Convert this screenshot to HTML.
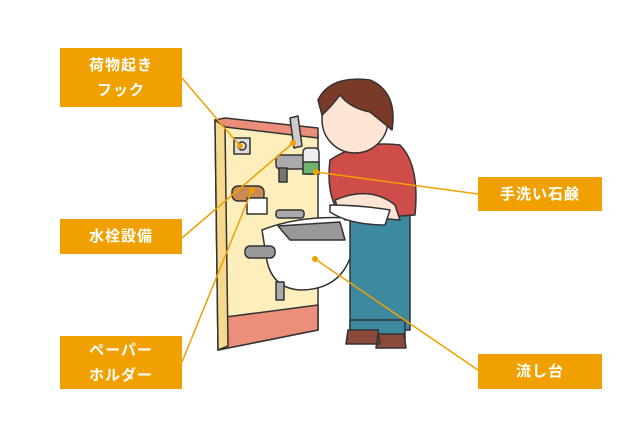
<!DOCTYPE html>
<html><head><meta charset="utf-8"><style>
body{margin:0;background:#fff;width:640px;height:426px;overflow:hidden;position:relative;font-family:"Liberation Sans","Noto Sans CJK JP",sans-serif}
.b{position:absolute;background:#f0a000;color:#fff;font-weight:bold;font-size:15px;display:flex;align-items:center;justify-content:center;text-align:center;line-height:25px;letter-spacing:1px}
svg{position:absolute;left:0;top:0}
</style></head><body>
<svg width="640" height="426" viewBox="0 0 640 426">
<g stroke="#333" stroke-width="1.5" stroke-linejoin="round">
<!-- wall panel -->
<polygon points="215,120 318,134 318,330 218,350" fill="#fdeebb"/>
<polygon points="215,120 225,118 318,128 318,138 225,127" fill="#ec8f7a"/>
<polygon points="218,318 318,305 318,330 218,350" fill="#ec8f7a"/>
<polygon points="215,120 225,127 228,346 218,350" fill="#f6d98c"/>
<rect x="234" y="138" width="16" height="16" fill="#ddd"/><circle cx="242" cy="146" r="4" fill="#eee"/>
<!-- paper holder -->
<rect x="232" y="186" width="32" height="15" rx="6" fill="#c98a55"/>
<rect x="247" y="198" width="20" height="16" fill="#fff"/>
<!-- faucet -->
<rect x="276" y="155" width="30" height="14" rx="4" fill="#aaa"/>
<path d="M290,118 l8,-2 l4,30 l-8,2z" fill="#ccc"/>
<rect x="279" y="168" width="8" height="14" fill="#777"/>
<rect x="276" y="210" width="28" height="8" rx="3" fill="#aaa"/>
<rect x="303" y="148" width="16" height="26" rx="4" fill="#eee"/>
<rect x="303" y="162" width="16" height="12" fill="#6db36d"/>
<!-- sink -->
<path d="M262,230 Q300,215 350,218 L355,235 Q350,290 300,290 Q270,288 266,255z" fill="#fff"/>
<polygon points="278,226 340,222 345,240 290,240" fill="#999"/>
<rect x="245" y="246" width="30" height="12" rx="5" fill="#999"/>
<rect x="276" y="282" width="8" height="18" fill="#aaa"/>
<!-- boy -->
<rect x="350" y="210" width="60" height="120" fill="#3d8aa0"/>
<rect x="350" y="320" width="55" height="20" fill="#3d8aa0"/>
<path d="M348,330 l30,0 l2,14 l-34,0z M378,334 l26,0 l2,14 l-30,0z" fill="#8b4a3a"/>
<path d="M330,160 Q360,140 400,145 Q420,165 415,215 L345,220 Q325,200 330,160z" fill="#cf4d48"/>
<path d="M335,200 Q370,185 395,205 L400,220 L340,215z" fill="#fde4d4"/>
<path d="M330,205 Q360,205 390,210 L385,225 Q350,225 330,212z" fill="#fff"/>
<circle cx="355" cy="120" r="33" fill="#fde4d4"/>
<path d="M318,100 Q330,75 370,80 Q398,92 392,130 Q380,120 370,112 Q350,108 340,95 Q330,108 322,115z" fill="#7a3a28"/>
</g>
<g stroke="#f0a000" stroke-width="1.5" fill="none">
<line x1="182" y1="78" x2="240" y2="146"/>
<line x1="182" y1="238" x2="293" y2="143"/>
<line x1="182" y1="362" x2="252" y2="190"/>
<line x1="316" y1="172" x2="478" y2="194"/>
<line x1="315" y1="259" x2="478" y2="370"/>
</g>
<g fill="#f0a000"><circle cx="240" cy="146" r="3"/><circle cx="293" cy="143" r="3"/><circle cx="252" cy="190" r="3"/><circle cx="316" cy="172" r="3"/><circle cx="315" cy="259" r="3"/></g>
</svg>
<div class="b" style="left:60px;top:48px;width:122px;height:59px">荷物起き<br>フック</div>
<div class="b" style="left:60px;top:219px;width:122px;height:35px">水栓設備</div>
<div class="b" style="left:60px;top:336px;width:122px;height:53px">ペーパー<br>ホルダー</div>
<div class="b" style="left:478px;top:177px;width:124px;height:34px">手洗い石鹸</div>
<div class="b" style="left:478px;top:354px;width:124px;height:35px">流し台</div>
</body></html>
